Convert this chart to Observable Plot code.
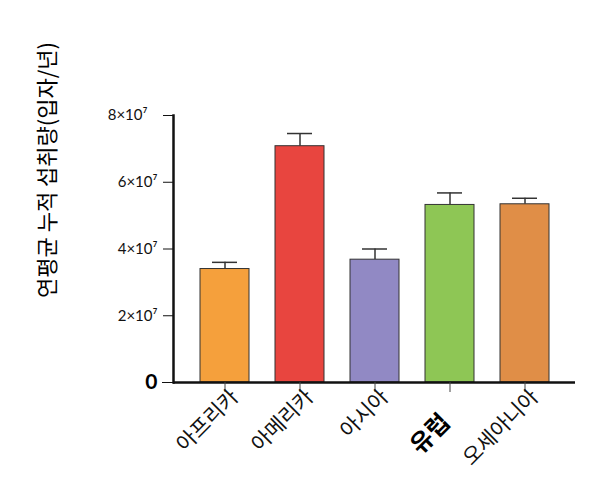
<!DOCTYPE html>
<html>
<head>
<meta charset="utf-8">
<script src="https://cdn.jsdelivr.net/npm/d3@7"></script>
<script src="https://cdn.jsdelivr.net/npm/@observablehq/plot@0.6"></script>
<style>
  body { margin: 0; background: #fff; }
  #chart svg { display: block; }
</style>
</head>
<body>
<div id="chart"></div>
<script>
// Annual cumulative intake by region (particles per year), mean with upper error bar
const regions = ["아프리카", "아메리카", "아시아", "유럽", "오세아니아"];
const means = [3.40e7, 7.08e7, 3.68e7, 5.32e7, 5.34e7];
const errors = [0.20e7, 0.38e7, 0.32e7, 0.36e7, 0.18e7];
const barColors = ["#F5A03C", "#E8453F", "#9189C4", "#8EC655", "#E08E47"];

const yTicks = [2e7, 4e7, 6e7, 8e7];
const yTickLabels = ["2×10⁷", "4×10⁷", "6×10⁷", "8×10⁷"];
const yTitle = "연평균 누적 섭취량(입자/년)";

const rows = regions.map((r, i) => ({region: r, mean: means[i], top: means[i] + errors[i]}));
const regularRegions = regions.filter(r => r !== "유럽");
const boldRegions = ["유럽"];

const tickText = d => yTickLabels[yTicks.indexOf(d)];
const numFont = "Lato, 'Noto Sans', sans-serif";
const krFont = "'Noto Sans CJK KR', sans-serif";

const chart = Plot.plot({
  width: 597,
  height: 502,
  marginTop: 115,
  marginBottom: 120,
  marginLeft: 173,
  marginRight: 22,
  style: {background: "#fff", color: "#111"},
  x: {domain: regions, padding: 0.35, axis: null},
  y: {domain: [0, 8e7], axis: null},
  color: {domain: regions, range: barColors},
  marks: [
    // error bars (upper only)
    Plot.ruleX(rows, {x: "region", y1: "mean", y2: "top", stroke: "#333", strokeWidth: 1.5}),
    Plot.tickY(rows, {x: "region", y: "top", stroke: "#333", strokeWidth: 1.5, insetLeft: 12, insetRight: 12}),
    // bars
    Plot.barY(rows, {x: "region", y: "mean", fill: "region", stroke: "#333", strokeWidth: 1}),
    // axis lines
    Plot.frame({anchor: "left", stroke: "#111", strokeWidth: 2.5}),
    Plot.ruleY([0], {stroke: "#111", strokeWidth: 2.5}),
    // y ticks and labels
    Plot.axisY({ticks: yTicks.slice(0, 3), tickFormat: tickText, tickSize: 10, tickPadding: 6,
      tickStrokeWidth: 1.5, fontSize: 15, fontFamily: numFont, fill: "#111"}),
    Plot.axisY({ticks: [8e7], tickFormat: tickText, tickSize: 10, tickPadding: 16,
      tickStrokeWidth: 1.5, fontSize: 15, fontFamily: numFont, fill: "#111"}),
    Plot.axisY({ticks: [0], tickFormat: () => "0", tickSize: 11, tickPadding: 5,
      tickStrokeWidth: 1.5, fontSize: 21, fontWeight: "bold", fontFamily: numFont, fill: "#000"}),
    // x tick marks
    Plot.axisX({ticks: regions, tickSize: 10, tickStrokeWidth: 1.5, stroke: "#444",
      tickFormat: () => "", label: null}),
    // x tick labels, rotated
    Plot.axisX({ticks: regularRegions, tickSize: 0, tickPadding: 0,
      rotate: -45, textAnchor: "end", lineAnchor: "middle", dx: 10, dy: 11,
      fontSize: 21, fontFamily: krFont, fill: "#111", label: null}),
    Plot.axisX({ticks: boldRegions, tickSize: 0, tickPadding: 0,
      rotate: -45, textAnchor: "end", lineAnchor: "middle", dx: -4, dy: 36,
      fontSize: 24, fontWeight: "bold", fontFamily: krFont, fill: "#000", label: null}),
    // y axis title
    Plot.text([yTitle], {frameAnchor: "left", textAnchor: "middle", dx: -126, dy: -79, rotate: -90,
      fontSize: 22, fontWeight: "normal", fontFamily: krFont, fill: "#000"})
  ]
});

document.getElementById("chart").append(chart);
</script>
</body>
</html>
